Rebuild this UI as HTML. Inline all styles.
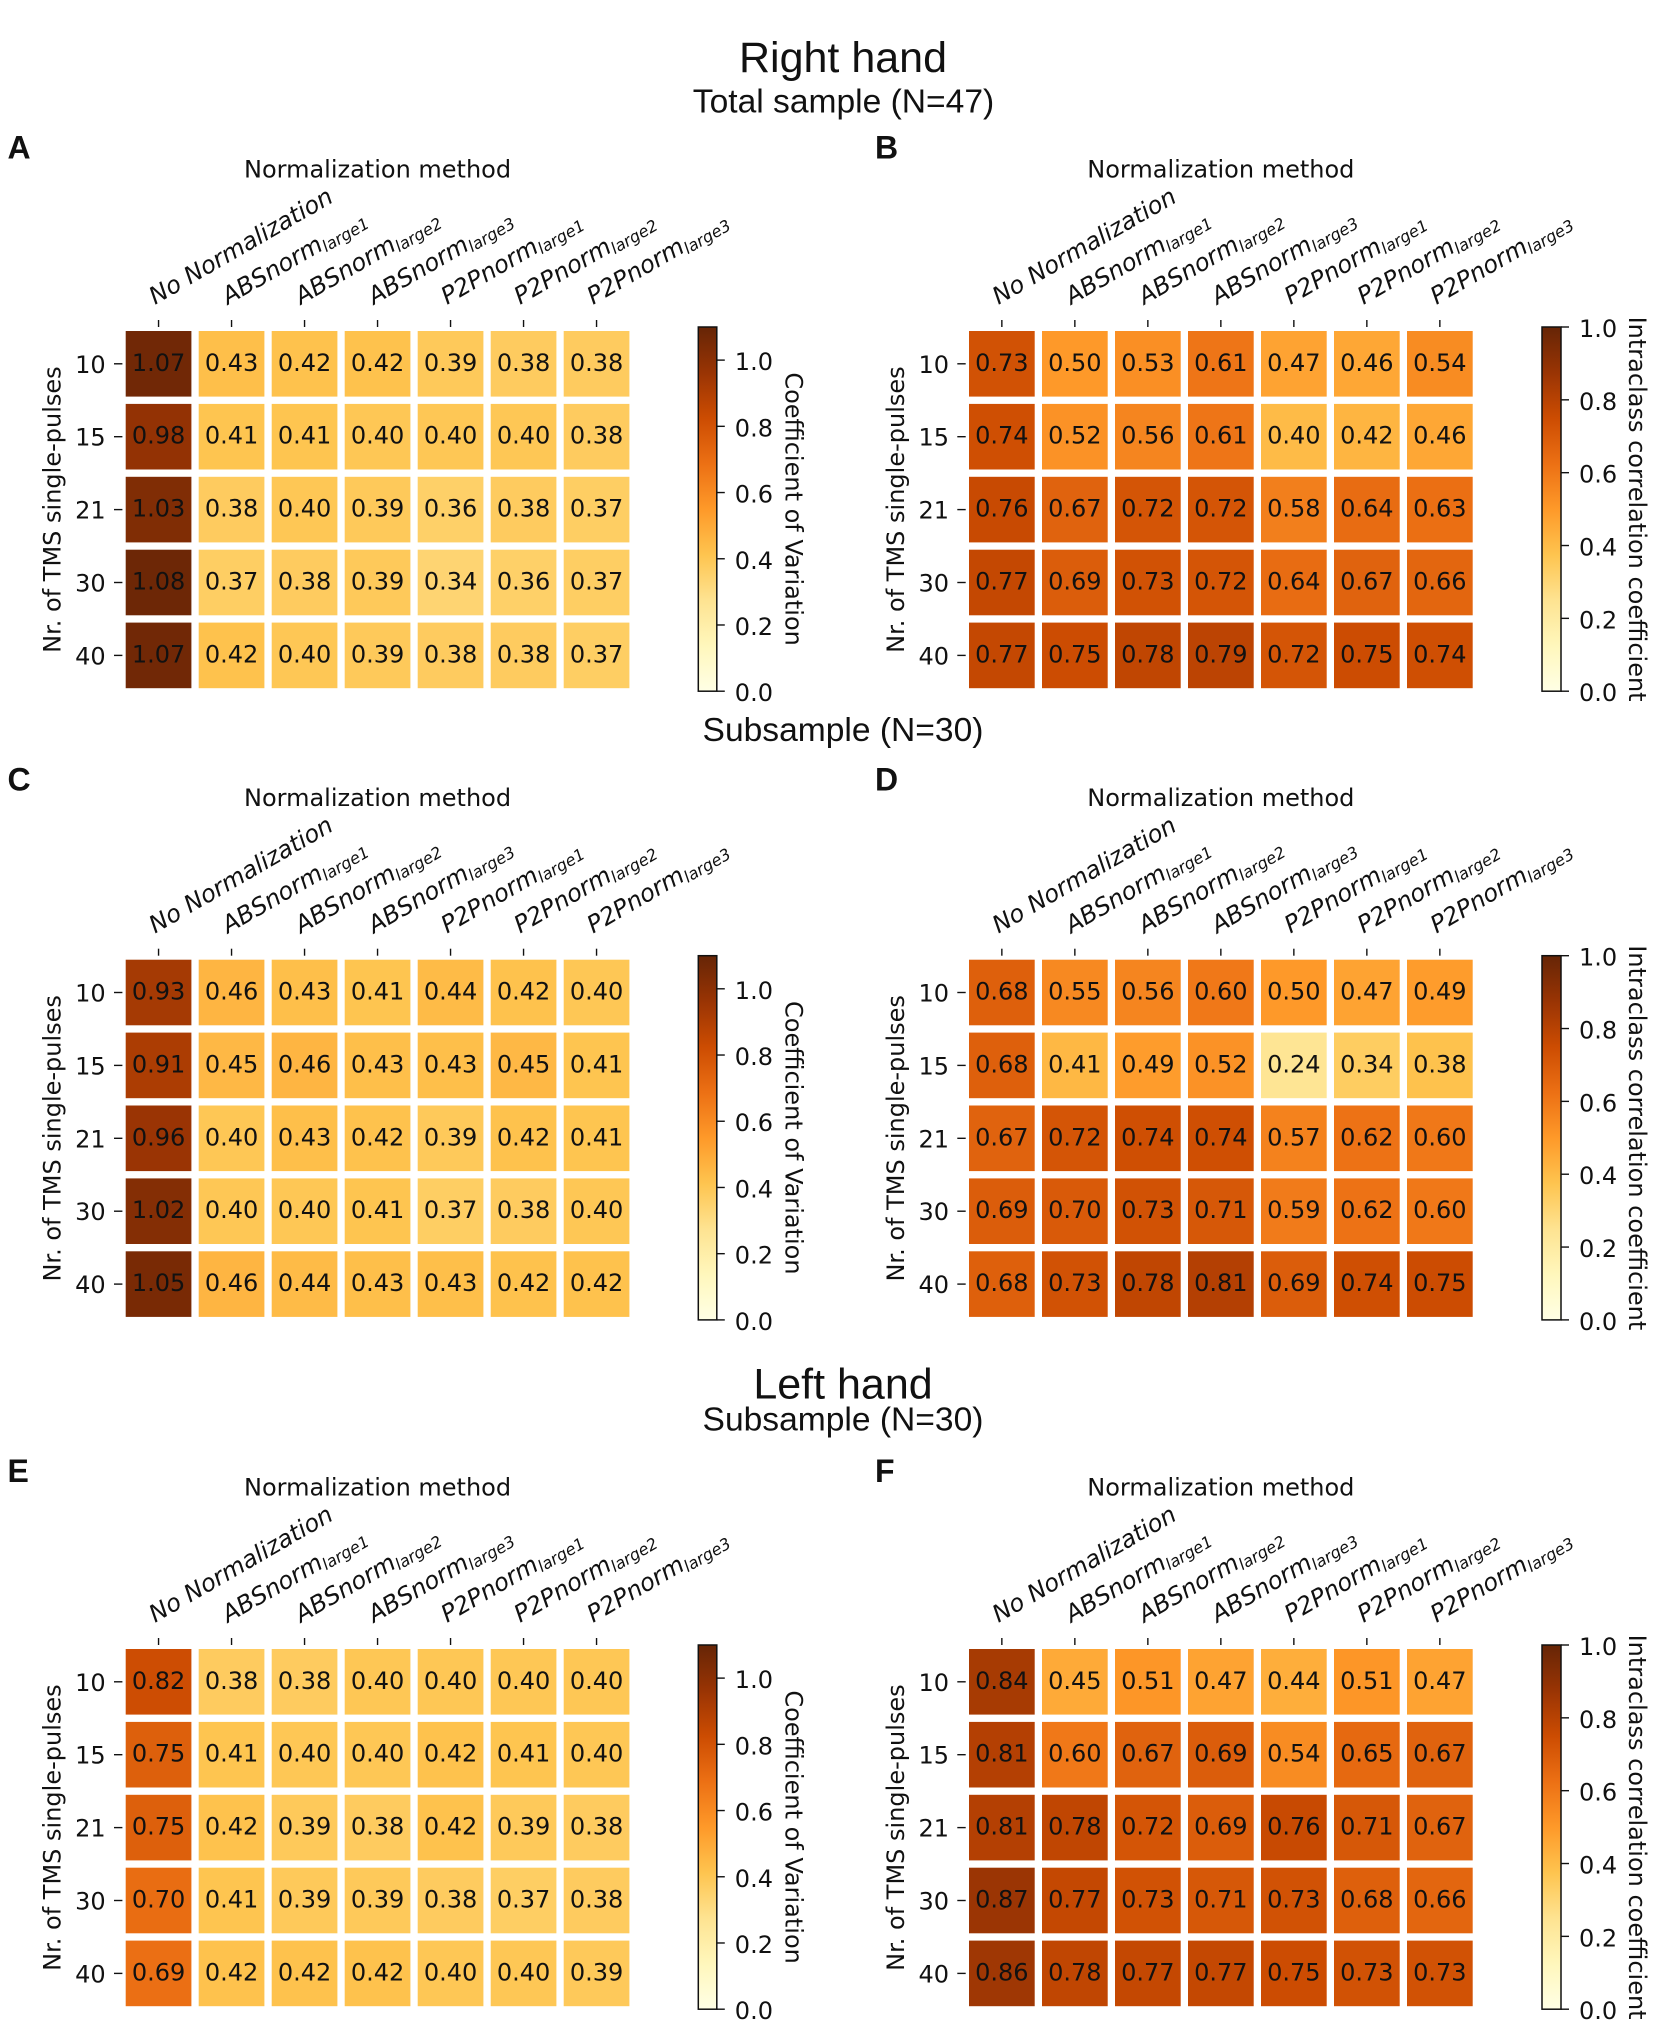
<!DOCTYPE html>
<html lang="en">
<head>
<meta charset="utf-8">
<title>Right and left hand normalization heatmaps</title>
<style>
  html, body { margin: 0; padding: 0; background: #fff; }
  #figure { display: block; }
  text { fill: #111; font-family: "DejaVu Sans", "Liberation Sans", sans-serif; }
  .head { font-family: "Liberation Sans", sans-serif; text-anchor: middle; }
  .letter { font-family: "Liberation Sans", sans-serif; font-weight: 700; font-size: 32px; }
</style>
</head>
<body>
<svg id="figure" xmlns="http://www.w3.org/2000/svg" width="1654" height="2025" viewBox="0 0 1654 2025">
  <defs>
    <linearGradient id="ylorbr" x1="0" y1="1" x2="0" y2="0"></linearGradient>
  </defs>
  <rect width="1654" height="2025" fill="#fff"/>
  <text class="head" x="843" y="72" font-size="43">Right hand</text>
  <text class="head" x="843.5" y="112.5" font-size="33.6">Total sample (N=47)</text>
  <text class="head" x="843" y="741" font-size="33.6">Subsample (N=30)</text>
  <text class="head" x="843" y="1398.7" font-size="43">Left hand</text>
  <text class="head" x="843" y="1430.6" font-size="33.6">Subsample (N=30)</text>
  <text class="letter" x="7.5" y="158.5">A</text>
  <text class="letter" x="875" y="158.5">B</text>
  <text class="letter" x="7.5" y="790.6">C</text>
  <text class="letter" x="875" y="790.6">D</text>
  <text class="letter" x="7.5" y="1482">E</text>
  <text class="letter" x="875" y="1482">F</text>
</svg>
<script>
// ---- chart data ----
const methodNames = ["No Normalization", "ABSnorm", "ABSnorm", "ABSnorm", "P2Pnorm", "P2Pnorm", "P2Pnorm"];
const methodSubscripts = ["", "large1", "large2", "large3", "large1", "large2", "large3"];
const pulseCounts = ["10", "15", "21", "30", "40"];
const covTicks = [0, 0.2, 0.4, 0.6, 0.8, 1.0];
const iccTicks = [0, 0.2, 0.4, 0.6, 0.8, 1.0];
const colormapColors = ["#ffffe5", "#fff7bc", "#fee391", "#fec44f", "#fe9929", "#ec7014", "#cc4c02", "#993404", "#662506"];

const valuesA = [
  [1.07, 0.43, 0.42, 0.42, 0.39, 0.38, 0.38],
  [0.98, 0.41, 0.41, 0.40, 0.40, 0.40, 0.38],
  [1.03, 0.38, 0.40, 0.39, 0.36, 0.38, 0.37],
  [1.08, 0.37, 0.38, 0.39, 0.34, 0.36, 0.37],
  [1.07, 0.42, 0.40, 0.39, 0.38, 0.38, 0.37]
];
const valuesB = [
  [0.73, 0.50, 0.53, 0.61, 0.47, 0.46, 0.54],
  [0.74, 0.52, 0.56, 0.61, 0.40, 0.42, 0.46],
  [0.76, 0.67, 0.72, 0.72, 0.58, 0.64, 0.63],
  [0.77, 0.69, 0.73, 0.72, 0.64, 0.67, 0.66],
  [0.77, 0.75, 0.78, 0.79, 0.72, 0.75, 0.74]
];
const valuesC = [
  [0.93, 0.46, 0.43, 0.41, 0.44, 0.42, 0.40],
  [0.91, 0.45, 0.46, 0.43, 0.43, 0.45, 0.41],
  [0.96, 0.40, 0.43, 0.42, 0.39, 0.42, 0.41],
  [1.02, 0.40, 0.40, 0.41, 0.37, 0.38, 0.40],
  [1.05, 0.46, 0.44, 0.43, 0.43, 0.42, 0.42]
];
const valuesD = [
  [0.68, 0.55, 0.56, 0.60, 0.50, 0.47, 0.49],
  [0.68, 0.41, 0.49, 0.52, 0.24, 0.34, 0.38],
  [0.67, 0.72, 0.74, 0.74, 0.57, 0.62, 0.60],
  [0.69, 0.70, 0.73, 0.71, 0.59, 0.62, 0.60],
  [0.68, 0.73, 0.78, 0.81, 0.69, 0.74, 0.75]
];
const valuesE = [
  [0.82, 0.38, 0.38, 0.40, 0.40, 0.40, 0.40],
  [0.75, 0.41, 0.40, 0.40, 0.42, 0.41, 0.40],
  [0.75, 0.42, 0.39, 0.38, 0.42, 0.39, 0.38],
  [0.70, 0.41, 0.39, 0.39, 0.38, 0.37, 0.38],
  [0.69, 0.42, 0.42, 0.42, 0.40, 0.40, 0.39]
];
const valuesF = [
  [0.84, 0.45, 0.51, 0.47, 0.44, 0.51, 0.47],
  [0.81, 0.60, 0.67, 0.69, 0.54, 0.65, 0.67],
  [0.81, 0.78, 0.72, 0.69, 0.76, 0.71, 0.67],
  [0.87, 0.77, 0.73, 0.71, 0.73, 0.68, 0.66],
  [0.86, 0.78, 0.77, 0.77, 0.75, 0.73, 0.73]
];

// ---- rendering ----
const SVG_NS = "http://www.w3.org/2000/svg";
const figure = document.getElementById("figure");
const FONT = 24;
const CELL_GAP = 7.3;
const ROW_PITCH = 72.9;

function svgEl(parent, tag, attrs) {
  const el = document.createElementNS(SVG_NS, tag);
  for (const key in attrs) el.setAttribute(key, attrs[key]);
  parent.appendChild(el);
  return el;
}

function hexToRgb(hex) {
  return [1, 3, 5].map(i => parseInt(hex.slice(i, i + 2), 16));
}

function colormap(t) {
  const clamped = Math.max(0, Math.min(1, t));
  const pos = clamped * (colormapColors.length - 1);
  const low = Math.min(Math.floor(pos), colormapColors.length - 2);
  const frac = pos - low;
  const a = hexToRgb(colormapColors[low]);
  const b = hexToRgb(colormapColors[low + 1]);
  const rgb = a.map((c, i) => Math.round(c + (b[i] - c) * frac));
  return "rgb(" + rgb.join(",") + ")";
}

const gradient = document.getElementById("ylorbr");
colormapColors.forEach((color, i) => {
  const stop = svgEl(gradient, "stop", { offset: i / (colormapColors.length - 1), "stop-color": color });
  
  
});

function drawPanel(id, values, layout, vmax, ticks, barTitle) {
  const { left, top, pitchX, barLeft, barWidth } = layout;
  const panel = svgEl(figure, "g", {});
  
  

  const cellW = pitchX - CELL_GAP;
  const cellH = ROW_PITCH - CELL_GAP;
  const xLeft = col => left + col * pitchX;
  const xCenter = col => xLeft(col) + cellW / 2;
  const yTop = row => top + row * ROW_PITCH;
  const yCenter = row => yTop(row) + cellH / 2;

  const gridBottom = yTop(pulseCounts.length - 1) + cellH;
  const gridRight = xLeft(methodNames.length - 1) + cellW;

  // Heatmap cells and printed values
  values.forEach((rowValues, row) => {
    rowValues.forEach((value, col) => {
      const cell = svgEl(panel, "rect", {
        x: xLeft(col), y: yTop(row), width: cellW, height: cellH,
        fill: colormap(value / vmax)
      });
      
      
      const label = svgEl(panel, "text", {
        x: xCenter(col), y: yCenter(row) + 7, "text-anchor": "middle", "font-size": FONT
      });
      
      
      label.textContent = value.toFixed(2);
    });
  });

  // X axis (top)
  methodNames.forEach((name, col) => {
    const tick = svgEl(panel, "line", {
      x1: xCenter(col), x2: xCenter(col), y1: top - 11, y2: top - 4,
      stroke: "#111", "stroke-width": 1.4
    });
    
    

    const ax = xCenter(col) - 3.5;
    const ay = top - 26;
    const label = svgEl(panel, "text", {
      x: ax, y: ay, "font-size": FONT, "font-style": "italic",
      transform: "rotate(-30 " + ax + " " + ay + ")"
    });
    
    
    const main = svgEl(label, "tspan", {});
    
    
    main.textContent = name;
    if (methodSubscripts[col]) {
      const sub = svgEl(label, "tspan", { dy: 3.5, "font-size": FONT * 0.67 });
      
      
      sub.textContent = methodSubscripts[col];
    }
  });

  const xTitle = svgEl(panel, "text", {
    x: (left + gridRight) / 2, y: top - 153.5, "text-anchor": "middle", "font-size": FONT
  });
  
  
  xTitle.textContent = "Normalization method";

  // Y axis
  pulseCounts.forEach((count, row) => {
    const tick = svgEl(panel, "line", {
      x1: left - 11.7, x2: left - 3.3, y1: yCenter(row), y2: yCenter(row),
      stroke: "#111", "stroke-width": 1.4
    });
    
    
    const label = svgEl(panel, "text", {
      x: left - 20, y: yCenter(row) + 9, "text-anchor": "end", "font-size": FONT
    });
    
    
    label.textContent = count;
  });

  const yTitleX = left - 65;
  const yTitleY = (top + gridBottom) / 2;
  const yTitle = svgEl(panel, "text", {
    x: yTitleX, y: yTitleY, "text-anchor": "middle", "font-size": FONT,
    transform: "rotate(-90 " + yTitleX + " " + yTitleY + ")"
  });
  
  
  yTitle.textContent = "Nr. of TMS single-pulses";

  // Colorbar
  const barTop = top - 4;
  const barBottom = gridBottom + 3;
  const barY = v => barBottom - (v / vmax) * (barBottom - barTop);

  const bar = svgEl(panel, "rect", {
    x: barLeft, y: barTop, width: barWidth, height: barBottom - barTop,
    fill: "url(#ylorbr)", stroke: "#111", "stroke-width": 1.5
  });
  
  

  ticks.forEach(v => {
    const tick = svgEl(panel, "line", {
      x1: barLeft + barWidth, x2: barLeft + barWidth + 8, y1: barY(v), y2: barY(v),
      stroke: "#111", "stroke-width": 1.4
    });
    
    
    const label = svgEl(panel, "text", {
      x: barLeft + barWidth + 18, y: barY(v) + 10, "font-size": FONT
    });
    
    
    label.textContent = v.toFixed(1);
  });

  const cbTitleX = barLeft + 87;
  const cbTitleY = (barTop + barBottom) / 2;
  const cbTitle = svgEl(panel, "text", {
    x: cbTitleX, y: cbTitleY, "text-anchor": "middle", "font-size": FONT,
    transform: "rotate(90 " + cbTitleX + " " + cbTitleY + ")"
  });
  
  
  cbTitle.textContent = barTitle;
}

const COV_TITLE = "Coefficient of Variation";
const ICC_TITLE = "Intraclass correlation coefficient";
const leftColumn = { left: 125.7, pitchX: 73, barLeft: 698.3, barWidth: 18.5 };
const rightColumn = { left: 969, pitchX: 73, barLeft: 1542, barWidth: 19 };

drawPanel("a", valuesA, { ...leftColumn, top: 331 }, 1.1, covTicks, COV_TITLE);
drawPanel("b", valuesB, { ...rightColumn, top: 331 }, 1.0, iccTicks, ICC_TITLE);
drawPanel("c", valuesC, { ...leftColumn, top: 959.7 }, 1.1, covTicks, COV_TITLE);
drawPanel("d", valuesD, { ...rightColumn, top: 959.7 }, 1.0, iccTicks, ICC_TITLE);
drawPanel("e", valuesE, { ...leftColumn, top: 1649 }, 1.1, covTicks, COV_TITLE);
drawPanel("f", valuesF, { ...rightColumn, top: 1649 }, 1.0, iccTicks, ICC_TITLE);
</script>
</body>
</html>
